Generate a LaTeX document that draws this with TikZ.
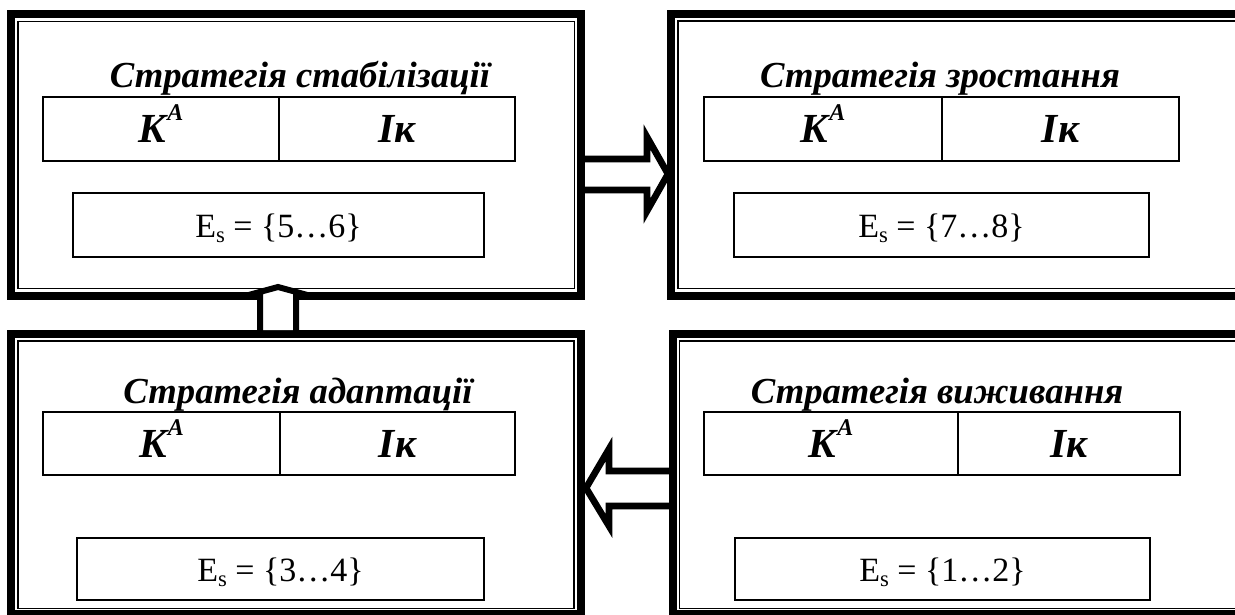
\documentclass[tikz,border=0pt]{standalone}
\usepackage{fontspec}
\setmainfont{Liberation Serif}
\usetikzlibrary{fit,calc}
\newcommand{\KA}{K\kern1pt\raisebox{16pt}{\fontsize{18}{18}\selectfont A}}
\newcommand{\Es}[1]{E\raisebox{-4pt}{\fontsize{17}{17}\selectfont s} = \{#1\}}
\begin{document}
\begin{tikzpicture}[x=0.75pt,y=-0.75pt,
  outerbox/.style={draw, line width=6pt, inner sep=0pt, outer sep=0pt, rectangle},
  innerline/.style={line width=1.1pt},
  cell/.style={draw, line width=2pt, inner sep=0pt, outer sep=0pt, rectangle},
  ttl/.style={font=\fontsize{27.5}{32}\selectfont\bfseries\itshape, anchor=base, inner sep=0pt},
  celltxt/.style={font=\fontsize{31}{36}\selectfont\bfseries\itshape, anchor=base, inner sep=0pt},
  estxt/.style={font=\fontsize{25.5}{30}\selectfont, anchor=base, inner sep=0pt},
  blockarrow/.style={draw, fill=white, line width=5pt, line join=miter, miter limit=10},
  uparrowline/.style={draw, line width=4.5pt, line join=miter, miter limit=10},
]
\useasboundingbox (0,0) rectangle (1235,614);
\clip (0,0) rectangle (1235,614);

% box extents
\coordinate (tlA) at (11,14);   \coordinate (tlB) at (581,295.5);
\coordinate (trA) at (671,14);  \coordinate (trB) at (1262,295.5);
\coordinate (blA) at (11,334);  \coordinate (blB) at (581,614);
\coordinate (brA) at (672.5,334); \coordinate (brB) at (1262,614);

\node[outerbox, fit=(tlA)(tlB), draw=none] (tl) {};
\node[outerbox, fit=(trA)(trB), draw=none] (tr) {};
\node[outerbox, fit=(blA)(blB), draw=none] (bl) {};
\node[outerbox, fit=(brA)(brB), draw=none] (br) {};

% right arrow (stabilisation -> growth), drawn under the frames
\draw[blockarrow] (tl.east |- 0,159) -- (647,159) -- (647,137) -- ($(tr.west |- 0,174)+(-3,0)$)
  -- (647,211) -- (647,190) -- (tl.east |- 0,190) -- cycle;
% left arrow (survival -> adaptation)
\draw[blockarrow] (br.west |- 0,471) -- (609,471) -- (609,449) -- ($(bl.east |- 0,488)+(5,0)$)
  -- (609,526) -- (609,506) -- (br.west |- 0,506) -- cycle;

% outer double frames
\foreach \b/\il/\it/\ir/\ib in {tl/18/21.5/574.5/288.5, tr/678/21/1262/288.5, bl/18/341/574/608.5, br/679.5/341/1262/608.5}{
  \draw[line width=6pt] (\b.north west) rectangle (\b.south east);
  \draw[innerline] (\il,\it) rectangle (\ir,\ib);
}

% ---------- top left ----------
\node[ttl] (tlt) at (300,87) {Стратегія стабілізації};
\node[cell, fit={(43,97)(279,161)}] (tlc1) {};
\node[cell, fit={(279,97)(515,161)}] (tlc2) {};
\node[celltxt] (tlk) at (tlc1.center |- 0,142) {\KA};
\node[celltxt] (tli) at (tlc2.center |- 0,142) {Ік};
\node[cell, fit={(73,193)(484,257)}] (tle) {};
\node[estxt] (tlet) at (tle.center |- 0,237) {\Es{5…6}};

% ---------- top right ----------
\node[ttl] (trt) at (940,87) {Стратегія зростання};
\node[cell, fit={(704,97)(942,161)}] (trc1) {};
\node[cell, fit={(942,97)(1179,161)}] (trc2) {};
\node[celltxt] (trk) at (trc1.center |- 0,142) {\KA};
\node[celltxt] (tri) at (trc2.center |- 0,142) {Ік};
\node[cell, fit={(734,193)(1149,257)}] (tre) {};
\node[estxt] (tret) at (tre.center |- 0,237) {\Es{7…8}};

% ---------- bottom left ----------
\node[ttl] (blt) at (298,403) {Стратегія адаптації};
\node[cell, fit={(43,412)(280,475)}] (blc1) {};
\node[cell, fit={(280,412)(515,475)}] (blc2) {};
\node[celltxt] (blk) at (blc1.center |- 0,457) {\KA};
\node[celltxt] (bli) at (blc2.center |- 0,457) {Ік};
\node[cell, fit={(77,538)(484,600)}] (ble) {};
\node[estxt] (blet) at (ble.center |- 0,581) {\Es{3…4}};

% ---------- bottom right ----------
\node[ttl] (brt) at (937,403) {Стратегія виживання};
\node[cell, fit={(704,412)(958,475)}] (brc1) {};
\node[cell, fit={(958,412)(1180,475)}] (brc2) {};
\node[celltxt] (brk) at (brc1.center |- 0,457) {\KA};
\node[celltxt] (bri) at (brc2.center |- 0,457) {Ік};
\node[cell, fit={(735,538)(1150,600)}] (bre) {};
\node[estxt] (bret) at (bre.center |- 0,581) {\Es{1…2}};

% up arrow (adaptation -> stabilisation), open at the bottom
\fill[white] (260,330) -- (260,293) -- (256,293) -- (278,287) -- (300,293) -- (296,293) -- (296,330) -- cycle;
\draw[uparrowline] (bl.north -| 260,0) ++(0,-3) -- (260,293) -- (256,293) -- (278,287) -- (300,293) -- (296,293) -- (296,331);
\end{tikzpicture}
\end{document}
